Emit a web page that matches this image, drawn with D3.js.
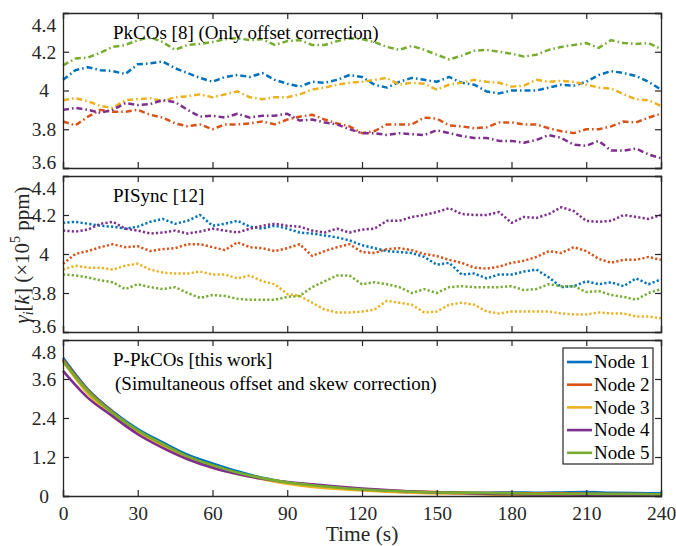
<!DOCTYPE html>
<html>
<head>
<meta charset="utf-8">
<script src="https://cdn.jsdelivr.net/npm/d3@7"></script>
<style>
  body { margin: 0; background: #fff; }
  svg { display: block; }
  svg text { font-family: "Liberation Serif", "Times New Roman", Times, "DejaVu Serif", serif; }
</style>
</head>
<body>
<svg width="676" height="546"></svg>
<script>
// sample times (s)
const time5 = [0,5,10,15,20,25,30,35,40,45,50,55,60,65,70,75,80,85,90,95,100,105,110,115,120,
  125,130,135,140,145,150,155,160,165,170,175,180,185,190,195,200,205,210,215,220,225,230,235,240];
const time10 = [0,10,20,30,40,50,60,70,80,90,100,110,120,130,140,150,160,170,180,190,200,210,220,230,240];

const nodeNames = ["Node 1", "Node 2", "Node 3", "Node 4", "Node 5"];
const nodeColors = ["#0072BD", "#D95319", "#EDB120", "#7E2F8E", "#77AC30"];

const xTicks = [0, 30, 60, 90, 120, 150, 180, 210, 240];
const yTicksNarrow = [3.6, 3.8, 4, 4.2, 4.4];
const yTicksWide = [0, 1.2, 2.4, 3.6, 4.8];

// PkCOs [8] (only offset correction), x10^5 ppm
const pkcos1 = [4.055,4.105,4.12,4.105,4.1,4.085,4.135,4.14,4.15,4.115,4.09,4.065,4.045,4.07,4.08,4.07,4.09,4.055,4.035,4.02,4.045,4.04,4.055,4.08,4.07,
  4.03,4.015,4.045,4.065,4.055,4.045,4.07,4.04,4.03,3.995,3.985,4.0,4.0,4.0,4.015,4.03,4.025,4.045,4.08,4.1,4.09,4.075,4.045,4.005];
const pkcos2 = [3.84,3.82,3.865,3.9,3.89,3.89,3.9,3.875,3.86,3.83,3.815,3.825,3.8,3.825,3.825,3.83,3.84,3.825,3.85,3.865,3.875,3.85,3.83,3.815,3.78,
  3.79,3.825,3.825,3.825,3.86,3.855,3.82,3.815,3.805,3.81,3.835,3.835,3.825,3.825,3.805,3.79,3.78,3.8,3.8,3.815,3.84,3.835,3.86,3.88];
const pkcos3 = [3.95,3.96,3.945,3.92,3.91,3.95,3.955,3.96,3.945,3.965,3.97,3.98,3.965,3.98,3.995,3.965,3.955,3.965,3.965,3.98,4.005,4.015,4.03,4.04,4.045,
  4.055,4.065,4.03,4.04,4.035,4.005,4.03,4.04,4.055,4.045,4.04,4.02,4.025,4.055,4.045,4.05,4.045,4.03,4.015,4.01,3.98,3.955,3.95,3.92];
const pkcos4 = [3.9,3.91,3.9,3.885,3.9,3.935,3.925,3.93,3.95,3.94,3.9,3.865,3.87,3.86,3.88,3.86,3.87,3.87,3.88,3.845,3.85,3.835,3.825,3.8,3.78,
  3.78,3.77,3.78,3.775,3.77,3.795,3.78,3.765,3.755,3.755,3.74,3.74,3.73,3.745,3.77,3.755,3.72,3.715,3.74,3.69,3.69,3.7,3.67,3.65];
const pkcos5 = [4.13,4.165,4.17,4.195,4.225,4.235,4.26,4.275,4.25,4.21,4.235,4.24,4.25,4.265,4.27,4.26,4.265,4.235,4.255,4.26,4.235,4.235,4.255,4.27,4.265,
  4.25,4.225,4.21,4.23,4.21,4.185,4.16,4.18,4.205,4.21,4.2,4.19,4.175,4.185,4.21,4.225,4.235,4.245,4.22,4.26,4.245,4.24,4.245,4.215];

// PISync [12]
const pisync1 = [4.16,4.165,4.155,4.145,4.14,4.13,4.14,4.165,4.18,4.155,4.17,4.2,4.145,4.155,4.17,4.14,4.13,4.145,4.13,4.11,4.105,4.095,4.085,4.07,4.045,
  4.03,4.015,4.01,4.005,3.985,3.945,3.955,3.895,3.9,3.875,3.895,3.895,3.91,3.92,3.88,3.83,3.835,3.86,3.845,3.855,3.835,3.875,3.845,3.87];
const pisync2 = [3.95,4.0,4.015,4.035,4.05,4.035,4.04,4.015,4.025,4.03,4.05,4.05,4.035,4.02,4.06,4.035,4.03,4.015,4.03,4.05,3.99,4.015,4.035,4.05,4.01,
  4.005,4.025,4.03,4.02,4.0,3.99,3.97,3.955,3.93,3.925,3.935,3.955,3.965,3.985,4.015,4.005,4.035,4.015,3.975,3.955,3.97,3.97,3.985,3.97];
const pisync3 = [3.92,3.94,3.93,3.93,3.92,3.94,3.95,3.92,3.905,3.9,3.9,3.91,3.895,3.895,3.875,3.89,3.86,3.845,3.795,3.785,3.75,3.715,3.7,3.7,3.705,
  3.715,3.76,3.75,3.74,3.7,3.705,3.74,3.75,3.74,3.705,3.695,3.705,3.705,3.705,3.705,3.695,3.69,3.69,3.7,3.695,3.695,3.68,3.68,3.67];
const pisync4 = [4.12,4.115,4.125,4.155,4.165,4.13,4.12,4.105,4.11,4.12,4.105,4.115,4.13,4.12,4.11,4.13,4.145,4.155,4.145,4.14,4.12,4.11,4.13,4.11,4.125,
  4.13,4.17,4.17,4.19,4.2,4.215,4.235,4.205,4.2,4.2,4.215,4.16,4.19,4.185,4.205,4.24,4.22,4.17,4.165,4.17,4.2,4.19,4.18,4.2];
const pisync5 = [3.895,3.89,3.88,3.865,3.855,3.82,3.845,3.83,3.82,3.83,3.8,3.775,3.79,3.785,3.77,3.765,3.765,3.765,3.78,3.785,3.83,3.86,3.89,3.89,3.845,
  3.855,3.845,3.83,3.8,3.82,3.8,3.83,3.835,3.83,3.83,3.83,3.835,3.815,3.82,3.845,3.835,3.835,3.805,3.81,3.79,3.78,3.765,3.8,3.82];

// P-PkCOs [this work]
const ppkcos1 = [4.25,3.28,2.6,2.06,1.65,1.27,1.0,0.76,0.56,0.42,0.32,0.25,0.2,0.15,0.12,0.1,0.1,0.1,0.11,0.1,0.11,0.12,0.1,0.09,0.08];
const ppkcos2 = [4.2,3.25,2.57,2.0,1.58,1.2,0.93,0.7,0.54,0.41,0.32,0.26,0.21,0.17,0.14,0.12,0.1,0.09,0.09,0.08,0.08,0.07,0.06,0.06,0.05];
const ppkcos3 = [4.15,3.15,2.45,1.93,1.52,1.15,0.88,0.68,0.52,0.38,0.28,0.22,0.17,0.13,0.1,0.08,0.07,0.05,0.04,0.04,0.03,0.03,0.04,0.03,0.03];
const ppkcos4 = [3.85,3.02,2.45,1.9,1.48,1.13,0.87,0.68,0.53,0.43,0.36,0.29,0.23,0.18,0.14,0.11,0.09,0.07,0.06,0.05,0.05,0.04,0.04,0.04,0.05];
const ppkcos5 = [4.15,3.22,2.55,2.02,1.6,1.22,0.95,0.72,0.55,0.42,0.33,0.26,0.2,0.16,0.13,0.11,0.1,0.09,0.08,0.07,0.07,0.07,0.06,0.06,0.05];

var svg = d3.select("svg");
var ink = "#262626";
var fs = 19.5;

var x = d3.scaleLinear().domain([0, 240]).range([63, 661]);

var panels = [
  { top: 13, bottom: 168, domain: [3.6, 4.4], ticks: yTicksNarrow, t: time5,
    series: [pkcos1, pkcos2, pkcos3, pkcos4, pkcos5], dash: "6,3,1.6,3", width: 2.5,
    curve: d3.curveLinear, title: ["PkCOs [8] (Only offset correction)"] },
  { top: 176, bottom: 332, domain: [3.6, 4.4], ticks: yTicksNarrow, t: time5,
    series: [pisync1, pisync2, pisync3, pisync4, pisync5], dash: "2.2,2.2", width: 2.5,
    curve: d3.curveLinear, title: ["PISync [12]"] },
  { top: 340, bottom: 496, domain: [0, 4.8], ticks: yTicksWide, t: time10,
    series: [ppkcos1, ppkcos2, ppkcos3, ppkcos4, ppkcos5], dash: null, width: 2.6,
    curve: d3.curveMonotoneX,
    title: ["P-PkCOs [this work]", "(Simultaneous offset and skew correction)"] }
];

panels.forEach(function(p, i) {
  var y = d3.scaleLinear().domain(p.domain).range([p.bottom, p.top]);
  var g = svg.append("g").attr("class", "panel");

  var line = d3.line()
    .curve(p.curve)
    .x(function(d, j) { return x(p.t[j]); })
    .y(function(d) { return y(d); });

  p.series.forEach(function(s, k) {
    g.append("path")
      .datum(s)
      .attr("d", line)
      .attr("fill", "none")
      .attr("stroke", nodeColors[k])
      .attr("stroke-width", p.width)
      .attr("stroke-linejoin", "round")
      .attr("stroke-dasharray", p.dash);
  });

  // box with inward ticks on all four sides
  g.append("g")
    .attr("transform", `translate(0,${p.bottom})`)
    .call(d3.axisBottom(x).tickValues(xTicks).tickSize(-6).tickPadding(10)
      .tickFormat(i == 2 ? d3.format("d") : ""));
  g.append("g")
    .attr("transform", `translate(0,${p.top})`)
    .call(d3.axisTop(x).tickValues(xTicks).tickSize(-6).tickFormat(""));
  g.append("g")
    .attr("class", "yaxis")
    .attr("transform", `translate(${x.range()[0]},0)`)
    .call(d3.axisLeft(y).tickValues(p.ticks).tickSize(-6).tickFormat(d3.format("")));
  g.append("g")
    .attr("transform", `translate(${x.range()[1]},0)`)
    .call(d3.axisRight(y).tickValues(p.ticks).tickSize(-6).tickFormat(""));

  g.selectAll(".domain").attr("stroke", ink).attr("stroke-width", 1.3);
  g.selectAll(".tick line").attr("stroke", ink).attr("stroke-width", 1.2);
  g.selectAll(".tick text")
    .attr("font-family", null)
    .attr("font-size", fs)
    .attr("fill", ink);

  // centred y labels, end labels pulled inside the box like the figure
  var n = p.ticks.length;
  g.select(".yaxis").selectAll(".tick text")
    .attr("x", -19)
    .attr("text-anchor", "middle")
    .attr("dy", function(d, j) {
      if (j == n - 1) return "0.95em";
      if (j == 0 && i < 2) return "0.05em";
      return "0.32em";
    });

  p.title.forEach(function(txt, j) {
    g.append("text")
      .attr("x", 113 + (j ? 2 : 0))
      .attr("y", p.top + 26 + j * 24)
      .attr("font-size", 19)
      .attr("fill", "#000")
      .text(txt);
  });
});

// legend
var legend = svg.append("g").attr("transform", "translate(563,348)");
legend.append("rect")
  .attr("width", 90).attr("height", 116)
  .attr("fill", "#fff").attr("stroke", ink).attr("stroke-width", 1.2);
nodeNames.forEach(function(name, k) {
  var ly = 14 + k * 22.7;
  legend.append("line")
    .attr("x1", 4).attr("x2", 29).attr("y1", ly).attr("y2", ly)
    .attr("stroke", nodeColors[k]).attr("stroke-width", 2.6);
  legend.append("text")
    .attr("x", 31).attr("y", ly).attr("dy", "0.33em")
    .attr("font-size", 19).attr("fill", "#000")
    .text(name);
});

// axis titles
svg.append("text")
  .attr("x", (x.range()[0] + x.range()[1]) / 2)
  .attr("y", 541)
  .attr("text-anchor", "middle")
  .attr("font-size", 21.5).attr("fill", ink)
  .text("Time (s)");

var ylab = svg.append("text")
  .attr("transform", "translate(29,255) rotate(-90)")
  .attr("text-anchor", "middle")
  .attr("font-size", 21).attr("fill", ink);
ylab.append("tspan").attr("font-style", "italic").text("γ");
ylab.append("tspan").attr("font-style", "italic").attr("font-size", 14).attr("dy", 4).text("i");
ylab.append("tspan").attr("dy", -4).text("[");
ylab.append("tspan").attr("font-style", "italic").text("k");
ylab.append("tspan").text("] (×10");
ylab.append("tspan").attr("font-size", 14).attr("dy", -9).text("5");
ylab.append("tspan").attr("dy", 9).text(" ppm)");
</script>
</body>
</html>
